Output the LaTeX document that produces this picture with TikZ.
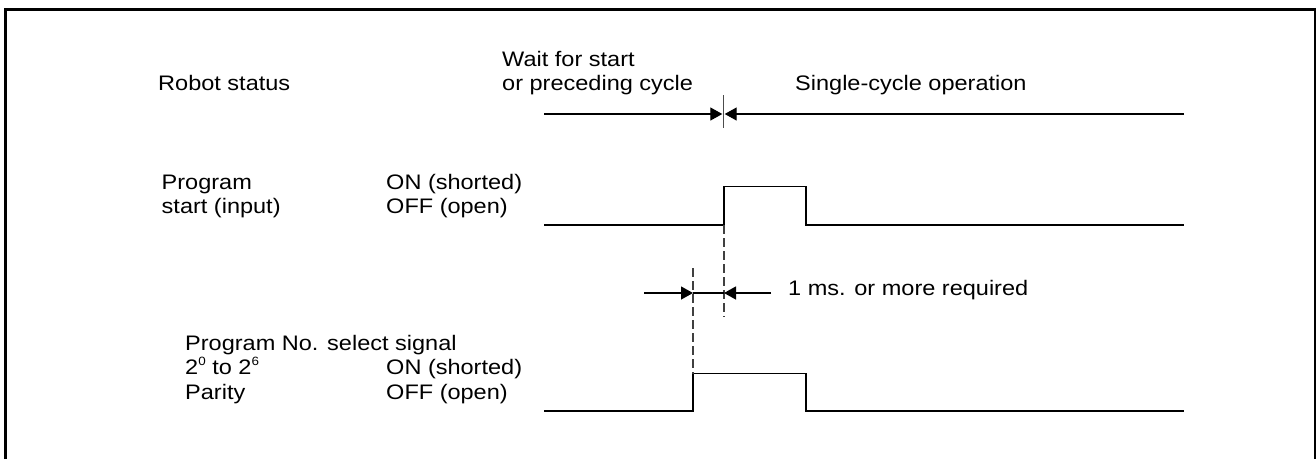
\documentclass[tikz,border=0pt]{standalone}
\usepackage{fontspec}
\setmainfont[FakeStretch=1.12]{Liberation Sans}
\usetikzlibrary{arrows.meta}
\newcommand{\supdig}[1]{\raisebox{0.42em}{\fontsize{12}{12}\selectfont #1}}
\begin{document}
\begin{tikzpicture}[x=1pt,y=-1pt,
  lbl/.style={anchor=base west,inner sep=0pt,font=\fontsize{21}{24}\selectfont},
  sig/.style={line width=1.4pt},
  guide/.style={line width=1.2pt,draw=black!75,dash pattern=on 9pt off 4pt},
  dim/.style={line width=1.3pt,-{Triangle[length=12pt,width=13pt]}},
  frameline/.style={line width=2.8pt}]
\useasboundingbox (0,0) rectangle (1316,459);
% frame
\draw[frameline] (5.5,459) -- (5.5,9.7) -- (1315,9.7) -- (1315,459);

% labels
\node[lbl] (rs) at (158,90) {Robot status};
\node[lbl] (w1) at (502,66) {Wait for start};
\node[lbl] (w2) at (502,90.5) {or preceding cycle};
\node[lbl] (sc) at (795,90) {Single-cycle operation};
\node[lbl] (ps1) at (161.5,189.5) {Program};
\node[lbl] (ps2) at (161.5,213.5) {start (input)};
\node[lbl] (on1) at (386,189.5) {ON (shorted)};
\node[lbl] (off1) at (386,213.5) {OFF (open)};
\node[lbl] (pn1) at (185,350) {Program No. select signal};
\node[lbl] (pn2) at (185,374.5) {2\supdig{0} to 2\supdig{6}};
\node[lbl] (pn3) at (185,399) {Parity};
\node[lbl] (on2) at (386,374.5) {ON (shorted)};
\node[lbl] (off2) at (386,399) {OFF (open)};
\node[lbl] (ms) at (788,295.7) {1 ms. or more required};

% robot status timeline
\coordinate (rsL) at (544,114);
\coordinate (rsLt) at (722.3,114);
\coordinate (rsR) at (1184,114);
\coordinate (rsRt) at (724.7,114);
\coordinate (tkT) at (723.5,95);
\coordinate (tkB) at (723.5,128);
\draw[dim] (rsL) -- (rsLt);
\draw[dim] (rsR) -- (rsRt);
\draw[line width=1.3pt,draw=black!70] (tkT) -- (tkB);

% program start signal
\coordinate (a0) at (544,225);
\coordinate (a1) at (724,225);
\coordinate (a2) at (724,186.5);
\coordinate (a3) at (806,186.5);
\coordinate (a4) at (806,225);
\coordinate (a5) at (1184,225);
\draw[sig] (a0) -- (a1) -- (a2) -- (a3) -- (a4) -- (a5);

% program no. select signal
\coordinate (b0) at (544,411);
\coordinate (b1) at (693,411);
\coordinate (b2) at (693,373.5);
\coordinate (b3) at (806,373.5);
\coordinate (b4) at (806,411);
\coordinate (b5) at (1184,411);
\draw[sig] (b0) -- (b1) -- (b2) -- (b3) -- (b4) -- (b5);

% guide lines
\coordinate (g1b) at (724,317);
\coordinate (g2t) at (693,268);
\draw[guide] (a1) -- (g1b);
\draw[guide] (g2t) -- (b2);

% 1 ms dimension
\coordinate (d0) at (644,293);
\coordinate (d1) at (693,293);
\coordinate (d2) at (724,293);
\coordinate (d3) at (771,293);
\draw[dim] (d0) -- (d1);
\draw[line width=1.2pt] (d1) -- (d2);
\draw[dim] (d3) -- (d2);
\end{tikzpicture}
\end{document}
